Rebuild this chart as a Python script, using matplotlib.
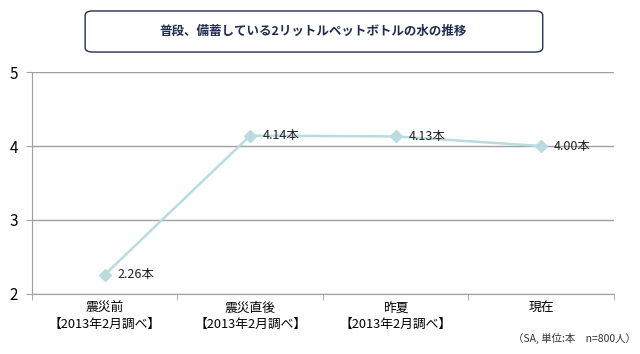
import matplotlib.pyplot as plt
from matplotlib.patches import FancyBboxPatch

plt.rcParams['font.family'] = ['Noto Sans CJK JP', 'DejaVu Sans']

categories = ['震災前\n【2013年2月調べ】', '震災直後\n【2013年2月調べ】', '昨夏\n【2013年2月調べ】', '現在']
values = [2.26, 4.14, 4.13, 4.00]
labels = ['2.26本', '4.14本', '4.13本', '4.00本']
title = '普段、備蓄している2リットルペットボトルの水の推移'
note = '（SA, 単位:本　n=800人）'

fig = plt.figure(figsize=(6.4, 3.54), dpi=100)
ax = fig.add_axes([0.05, 0.1695, 0.909, 0.6271])

x = list(range(len(values)))
ax.plot(x, values, color='#B9DCDF', linewidth=1.8, marker='D', markersize=6,
        markeredgecolor='#B9DCDF', markerfacecolor='#B9DCDF', zorder=3)
for xi, v, lab in zip(x, values, labels):
    ax.text(xi + 0.09, v, lab, fontsize=9, va='center', ha='left', color='#222222', zorder=4)

ax.set_xlim(-0.5, len(values) - 0.5)
ax.set_ylim(2, 5)
ax.set_yticks([2, 3, 4, 5])
ax.yaxis.grid(True, color='#A0A0A0', linewidth=1)
ax.set_axisbelow(True)
ax.set_xticks(x)
ax.set_xticklabels(categories, fontsize=9.2, linespacing=1.25)
ax.set_xticks([i - 0.5 for i in range(len(values) + 1)], minor=True)
ax.tick_params(axis='x', which='major', length=0, pad=6)
ax.tick_params(axis='x', which='minor', length=4, color='#A0A0A0')
ax.tick_params(axis='y', labelsize=11, length=4, color='#A0A0A0', pad=6)
for s in ['top', 'right']:
    ax.spines[s].set_visible(False)
for s in ['left', 'bottom']:
    ax.spines[s].set_color('#A0A0A0')

box = FancyBboxPatch((0.133, 0.853), 0.715, 0.116, boxstyle='round,pad=0,rounding_size=0.012',
                     transform=fig.transFigure, facecolor='white', edgecolor='#1F2D4F', linewidth=1)
fig.patches.append(box)
fig.text(0.49, 0.911, title, fontsize=9, fontweight='bold', color='#1F2D4F', ha='center', va='center')
fig.text(0.993, 0.045, note, fontsize=7.5, color='#333333', ha='right', va='center')

fig.savefig('out.png', dpi=100)
